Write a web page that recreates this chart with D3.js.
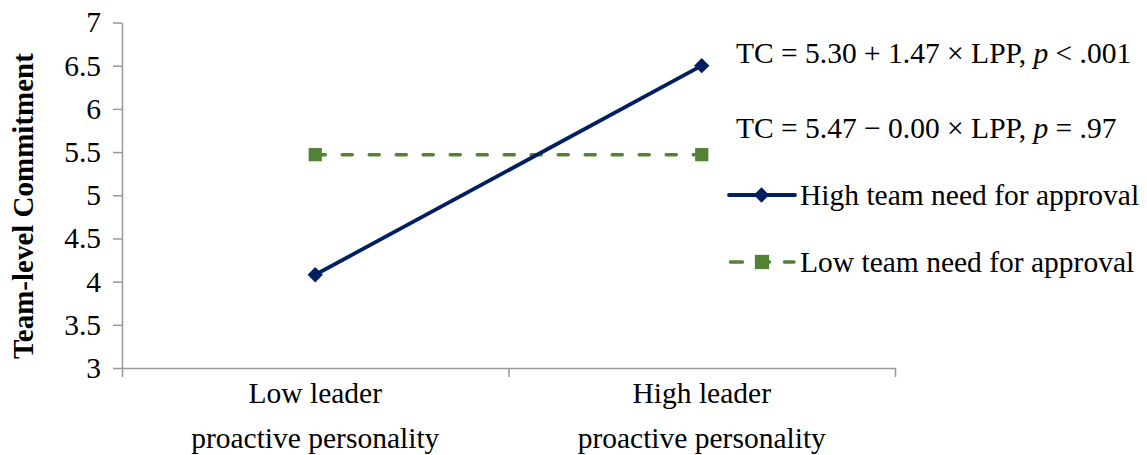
<!DOCTYPE html>
<html>
<head>
<meta charset="utf-8">
<script src="https://cdn.jsdelivr.net/npm/d3@7"></script>
<style>
  body { margin: 0; background: #fff; }
  .axis path, .axis line { stroke: #999; stroke-width: 1.5; }
</style>
</head>
<body>
<div id="chart"></div>
<script>
const categories = ['Low leader|proactive personality', 'High leader|proactive personality']
const highNeed = [4.08, 6.5]
const lowNeed = [5.47, 5.47]
const yTicks = [3, 3.5, 4, 4.5, 5, 5.5, 6, 6.5, 7]
const seriesNames = ['High team need for approval', 'Low team need for approval']
const equations = [
  ['TC = 5.30 + 1.47 × LPP, ', 'p', ' < .001'],
  ['TC = 5.47 − 0.00 × LPP, ', 'p', ' = .97']
]

var serif = '"Liberation Serif", "Times New Roman", serif';
var fs = 29.5;

var fullWidth = 1147;
var fullHeight = 455;
var margin = {top: 22.5, left: 122};
var width = 773;
var height = 345.5;

var navy = '#002060';
var green = '#548235';

var svg = d3.select('#chart').append('svg')
    .attr('width', fullWidth)
    .attr('height', fullHeight)
    .style('font-family', serif)
  .append('g')
    .attr('transform', 'translate(' + margin.left + ',' + margin.top + ')');

var x = d3.scaleBand().domain(categories).range([0, width]);
var xEdges = d3.scaleLinear().domain([0, categories.length]).range([0, width]);
var y = d3.scaleLinear().domain([3, 7]).range([height, 0]);

// y axis
var yAxis = svg.append('g')
  .attr('class', 'axis')
  .call(d3.axisLeft(y).tickValues(yTicks).tickSize(9).tickPadding(12).tickSizeOuter(0)
    .tickFormat(function(d) { return d; }));
yAxis.attr('font-family', null).attr('font-size', null);
yAxis.selectAll('text').style('font-size', fs + 'px').attr('fill', '#000');

// x axis (ticks between categories)
svg.append('g')
  .attr('class', 'axis')
  .attr('transform', 'translate(0,' + height + ')')
  .call(d3.axisBottom(xEdges).tickValues(d3.range(categories.length + 1)).tickSize(9).tickSizeOuter(0).tickFormat(''));

// category labels
categories.forEach(function(c) {
  var cx = x(c) + x.bandwidth() / 2;
  var t = svg.append('text')
    .attr('text-anchor', 'middle')
    .attr('y', height + 35)
    .style('font-size', fs + 'px');
  c.split('|').forEach(function(p, i) {
    t.append('tspan')
      .attr('x', cx)
      .attr('dy', i === 0 ? 0 : 45)
      .text(p);
  });
});

// y label
svg.append('text')
  .attr('text-anchor', 'middle')
  .attr('transform', 'rotate(-90)')
  .attr('x', -(206 - margin.top))
  .attr('y', -margin.left + 33)
  .style('font-size', '29px')
  .style('font-weight', 'bold')
  .text('Team-level Commitment');

var line = d3.line()
  .x(function(d, i) { return x(categories[i]) + x.bandwidth() / 2; })
  .y(function(d) { return y(d); });

// low need series (dashed)
svg.append('path')
  .datum(lowNeed)
  .attr('d', line)
  .attr('fill', 'none')
  .attr('stroke', green)
  .attr('stroke-width', 3.5)
  .attr('stroke-dasharray', '10,17')
  .attr('stroke-linecap', 'round');

// high need series
svg.append('path')
  .datum(highNeed)
  .attr('d', line)
  .attr('fill', 'none')
  .attr('stroke', navy)
  .attr('stroke-width', 3.8);

var diamond = d3.symbol().type(d3.symbolDiamond2).size(150);
var square = d3.symbol().type(d3.symbolSquare).size(175);
var legendSquare = d3.symbol().type(d3.symbolSquare).size(205);

svg.selectAll('.sq').data(lowNeed).enter().append('path')
  .attr('class', 'sq')
  .attr('d', square)
  .attr('fill', green)
  .attr('transform', function(d, i) { return 'translate(' + (x(categories[i]) + x.bandwidth() / 2) + ',' + y(d) + ')'; });

svg.selectAll('.dm').data(highNeed).enter().append('path')
  .attr('class', 'dm')
  .attr('d', diamond)
  .attr('fill', navy)
  .attr('transform', function(d, i) { return 'translate(' + (x(categories[i]) + x.bandwidth() / 2) + ',' + y(d) + ')'; });

// equations
equations.forEach(function(eq, i) {
  var t = svg.append('text')
    .attr('x', 736 - margin.left)
    .attr('y', 63 - margin.top + i * 75)
    .style('font-size', fs + 'px');
  eq.forEach(function(part, j) {
    t.append('tspan')
      .style('font-style', j === 1 ? 'italic' : 'normal')
      .text(part);
  });
});

// legend
var legend = svg.append('g').attr('transform', 'translate(' + (729 - margin.left) + ',' + (195 - margin.top) + ')');
var lg0 = legend.append('g');
lg0.append('line').attr('x1', 0).attr('x2', 66).attr('stroke', navy).attr('stroke-width', 3.8).attr('stroke-linecap', 'round');
lg0.append('path').attr('d', diamond).attr('fill', navy).attr('transform', 'translate(32.5,0)');
lg0.append('text').attr('x', 71).attr('y', 10).style('font-size', fs + 'px').text(seriesNames[0]);

var lg1 = legend.append('g').attr('transform', 'translate(0,67)');
lg1.append('line').attr('x1', 1.5).attr('x2', 65).attr('stroke', green).attr('stroke-width', 3.5)
  .attr('stroke-dasharray', '12,15').attr('stroke-linecap', 'round');
lg1.append('path').attr('d', legendSquare).attr('fill', green).attr('transform', 'translate(33,0)');
lg1.append('text').attr('x', 71).attr('y', 10).style('font-size', fs + 'px').text(seriesNames[1]);
</script>
</body>
</html>
